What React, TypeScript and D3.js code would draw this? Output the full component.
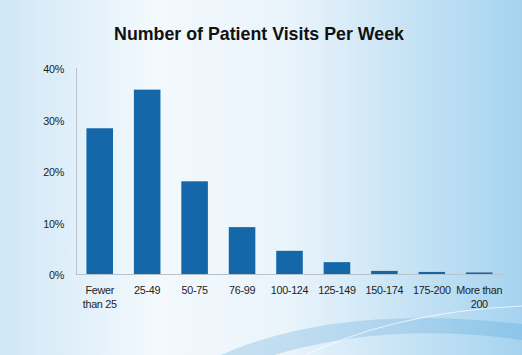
import { useEffect, useRef } from 'react';
import * as d3 from 'd3';

const categories = [
  'Fewer\nthan 25',
  '25-49',
  '50-75',
  '76-99',
  '100-124',
  '125-149',
  '150-174',
  '175-200',
  'More than\n200',
];
const shares = [28.3, 35.8, 18.0, 9.1, 4.5, 2.3, 0.6, 0.4, 0.3];
const yTicks = [0, 10, 20, 30, 40];

const W = 522;
const H = 355;

export default function App() {
  const svgRef = useRef<SVGSVGElement>(null);

  useEffect(() => {
    if (!svgRef.current) return;
    document.body.style.margin = '0';
    const svg = d3.select(svgRef.current);
    svg.selectAll('*').remove();

    const font = '"Liberation Sans", Arial, sans-serif';
    const defs = svg.append('defs');

    // background gradient: pale centre, blue towards the edges
    const bg = defs.append('linearGradient').attr('id', 'bg').attr('x1', 0).attr('x2', 1).attr('y1', 0).attr('y2', 0);
    bg.append('stop').attr('offset', '0%').attr('stop-color', '#d0e7f6');
    bg.append('stop').attr('offset', '30%').attr('stop-color', '#f3f9fd');
    bg.append('stop').attr('offset', '55%').attr('stop-color', '#eaf4fb');
    bg.append('stop').attr('offset', '100%').attr('stop-color', '#a5d3ef');

    const swoosh = defs.append('linearGradient').attr('id', 'sw').attr('x1', 0).attr('x2', 1).attr('y1', 0).attr('y2', 0);
    swoosh.append('stop').attr('offset', '0%').attr('stop-color', '#a6cde8').attr('stop-opacity', 0.55);
    swoosh.append('stop').attr('offset', '60%').attr('stop-color', '#8ec3e6').attr('stop-opacity', 0.5);
    swoosh.append('stop').attr('offset', '100%').attr('stop-color', '#6fb2e0').attr('stop-opacity', 0.45);

    svg.append('rect').attr('width', W).attr('height', H).attr('fill', 'url(#bg)');

    // decorative swooshes at the bottom
    svg.append('path')
      .attr('d', 'M210 360 Q330 302 522 324 L522 340 Q380 320 258 360 Z')
      .attr('fill', 'url(#sw)');
    svg.append('path')
      .attr('d', 'M295 360 Q390 312 522 306')
      .attr('fill', 'none')
      .attr('stroke', '#ffffff')
      .attr('stroke-opacity', 0.7)
      .attr('stroke-width', 1);

    const x = d3.scaleBand<string>()
      .domain(categories)
      .range([76, 503])
      .paddingInner(0.44)
      .paddingOuter(0.22);

    const y = d3.scaleLinear().domain([0, 40]).range([274, 68]);

    // title
    svg.append('text')
      .attr('x', 259)
      .attr('y', 40)
      .attr('text-anchor', 'middle')
      .attr('fill', '#111')
      .attr('font-family', font)
      .attr('font-size', '17.8px')
      .attr('font-weight', 'bold')
      .text('Number of Patient Visits Per Week');

    // axis lines
    svg.append('line')
      .attr('x1', 76.5).attr('x2', 76.5)
      .attr('y1', y(40)).attr('y2', y(0))
      .attr('stroke', '#b8c2ca').attr('stroke-width', 1);
    svg.append('line')
      .attr('x1', 76).attr('x2', 503)
      .attr('y1', y(0) + 0.5).attr('y2', y(0) + 0.5)
      .attr('stroke', '#b8c2ca').attr('stroke-width', 1);

    // y tick labels
    svg.append('g')
      .selectAll('text')
      .data(yTicks)
      .join('text')
      .attr('x', 64)
      .attr('y', d => y(d) + 5)
      .attr('text-anchor', 'end')
      .attr('fill', '#222')
      .attr('font-family', font)
      .attr('font-size', '10.8px')
      .attr('letter-spacing', '-0.3px')
      .text(d => `${d}%`);

    // bars
    svg.append('g')
      .selectAll('rect')
      .data(shares)
      .join('rect')
      .attr('x', (_, i) => x(categories[i]) ?? 0)
      .attr('y', d => y(d))
      .attr('width', x.bandwidth())
      .attr('height', d => y(0) - y(d))
      .attr('fill', '#1467a8');

    // x labels
    const xl = svg.append('g')
      .selectAll('text')
      .data(categories)
      .join('text')
      .attr('x', d => (x(d) ?? 0) + x.bandwidth() / 2)
      .attr('y', 294)
      .attr('text-anchor', 'middle')
      .attr('fill', '#222')
      .attr('font-family', font)
      .attr('font-size', '10.8px')
      .attr('letter-spacing', '-0.3px');
    xl.each(function (d) {
      const t = d3.select(this);
      d.split('\n').forEach((line, i) => {
        t.append('tspan')
          .attr('x', (x(d) ?? 0) + x.bandwidth() / 2)
          .attr('dy', i === 0 ? 0 : 14)
          .text(line);
      });
    });
  }, []);

  return (
    <svg
      ref={svgRef}
      width={W}
      height={H}
      style={{ position: 'absolute', left: 0, top: 0, display: 'block' }}
    />
  );
}
